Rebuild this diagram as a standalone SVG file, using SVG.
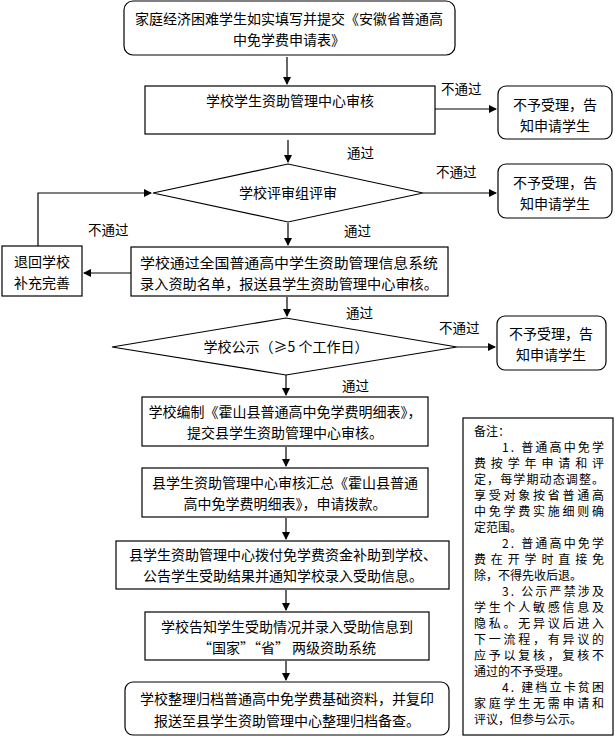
<svg xmlns="http://www.w3.org/2000/svg" width="615" height="738" viewBox="0 0 615 738">
<defs>
<marker id="ah" markerWidth="8" markerHeight="8" refX="7" refY="4" orient="auto" markerUnits="userSpaceOnUse"><path d="M0,0 L8,4 L0,8 Z" fill="#000"/></marker>
<style>
rect,polygon{fill:#fff;stroke:#000;stroke-width:1.2}
text{font-family:"Noto Sans CJK SC","Liberation Sans",sans-serif;font-size:14px;fill:#000}
.c{text-anchor:middle}
.l{font-size:13.5px}
.n{font-family:"Noto Sans CJK SC",sans-serif;font-size:12px}
#connectors line,#connectors polyline{stroke:#000;stroke-width:1.2;fill:none;marker-end:url(#ah)}
</style>
</defs>
<rect width="615" height="738" style="fill:#fff;stroke:none"/>
<g id="connectors">
<line x1="287" y1="57" x2="287" y2="84"/>
<line x1="435" y1="109" x2="496" y2="109"/>
<line x1="288" y1="140" x2="288" y2="162"/>
<line x1="423" y1="193" x2="496" y2="193"/>
<line x1="288" y1="223" x2="288" y2="245"/>
<line x1="131" y1="273" x2="84" y2="273"/>
<polyline points="38,246 38,193 151,193"/>
<line x1="287" y1="297" x2="287" y2="316"/>
<line x1="457" y1="347" x2="495" y2="347"/>
<line x1="286" y1="375" x2="286" y2="395"/>
<line x1="286" y1="447" x2="286" y2="466"/>
<line x1="286" y1="518" x2="286" y2="539"/>
<line x1="286" y1="590" x2="286" y2="610"/>
<line x1="286" y1="661" x2="286" y2="680"/>
<text class="l" x="441" y="94">不通过</text>
<text class="l" x="347" y="158">通过</text>
<text class="l" x="436" y="177">不通过</text>
<text class="l" x="344" y="236">通过</text>
<text class="l" x="88" y="235">不通过</text>
<text class="l" x="346" y="318">通过</text>
<text class="l" x="439" y="333">不通过</text>
<text class="l" x="342" y="391">通过</text>
</g>
<g id="n1"><rect x="124" y="1" width="331" height="54" rx="9"/><text class="c" x="289" y="24">家庭经济困难学生如实填写并提交《安徽省普通高</text><text class="c" x="289" y="45">中免学费申请表》</text></g>
<g id="n2"><rect x="145" y="86" width="290" height="48"/><text class="c" x="290" y="106">学校学生资助管理中心审核</text></g>
<g id="r1"><rect x="498" y="86" width="114" height="53" rx="8"/><text class="c" x="555" y="110">不予受理，告</text><text class="c" x="555" y="131">知申请学生</text></g>
<g id="d1"><polygon points="153,193 288,164 423,193 288,222"/><text class="c" x="288" y="198">学校评审组评审</text></g>
<g id="r2"><rect x="498" y="164" width="114" height="54" rx="8"/><text class="c" x="555" y="188">不予受理，告</text><text class="c" x="555" y="209">知申请学生</text></g>
<g id="n3"><rect x="131" y="247" width="317" height="49"/><text class="c" x="289" y="268" textLength="298" lengthAdjust="spacingAndGlyphs">学校通过全国普通高中学生资助管理信息系统</text><text class="c" x="289" y="289" textLength="298" lengthAdjust="spacingAndGlyphs">录入资助名单，报送县学生资助管理中心审核。</text></g>
<g id="back"><rect x="2" y="246" width="80" height="50"/><text class="c" x="42" y="267">退回学校</text><text class="c" x="42" y="288">补充完善</text></g>
<g id="d2"><polygon points="112,347 286,318 457,347 286,375"/><text class="c" x="286" y="352">学校公示（≥5 个工作日）</text></g>
<g id="r3"><rect x="497" y="316" width="109" height="54" rx="8"/><text class="c" x="551" y="339">不予受理，告</text><text class="c" x="551" y="360">知申请学生</text></g>
<g id="n4"><rect x="142" y="397" width="286" height="49"/><text class="c" x="285" y="417">学校编制《霍山县普通高中免学费明细表》，</text><text class="c" x="285" y="438">提交县学生资助管理中心审核。</text></g>
<g id="n5"><rect x="142" y="468" width="286" height="49"/><text class="c" x="285" y="488">县学生资助管理中心审核汇总《霍山县普通</text><text class="c" x="285" y="509">高中免学费明细表》，申请拨款。</text></g>
<g id="n6"><rect x="116" y="541" width="333" height="48"/><text class="c" x="283" y="560">县学生资助管理中心拨付免学费资金补助到学校、</text><text class="c" x="283" y="581">公告学生受助结果并通知学校录入受助信息。</text></g>
<g id="n7"><rect x="145" y="612" width="284" height="48"/><text class="c" x="287" y="632">学校告知学生受助情况并录入受助信息到</text><text class="c" x="287" y="653">“国家”“省” 两级资助系统</text></g>
<g id="n8"><rect x="125" y="682" width="324" height="53" rx="8"/><text class="c" x="287" y="704">学校整理归档普通高中免学费基础资料，并复印</text><text class="c" x="287" y="726">报送至县学生资助管理中心整理归档备查。</text></g>
<g id="note"><rect x="463" y="418" width="150" height="317"/>
<text class="n" x="474" y="436">备注：</text>
<text class="n" x="502" y="452" textLength="102" lengthAdjust="spacing">1. 普通高中免学</text>
<text class="n" x="474" y="468" textLength="130" lengthAdjust="spacing">费按学年申请和评</text>
<text class="n" x="474" y="484" textLength="130" lengthAdjust="spacing">定，每学期动态调整。</text>
<text class="n" x="474" y="500" textLength="130" lengthAdjust="spacing">享受对象按省普通高</text>
<text class="n" x="474" y="516" textLength="130" lengthAdjust="spacing">中免学费实施细则确</text>
<text class="n" x="474" y="532">定范围。</text>
<text class="n" x="502" y="548" textLength="102" lengthAdjust="spacing">2. 普通高中免学</text>
<text class="n" x="474" y="564" textLength="130" lengthAdjust="spacing">费在开学时直接免</text>
<text class="n" x="474" y="580">除，不得先收后退。</text>
<text class="n" x="502" y="596" textLength="102" lengthAdjust="spacing">3. 公示严禁涉及</text>
<text class="n" x="474" y="612" textLength="130" lengthAdjust="spacing">学生个人敏感信息及</text>
<text class="n" x="474" y="628" textLength="130" lengthAdjust="spacing">隐私。无异议后进入</text>
<text class="n" x="474" y="644" textLength="130" lengthAdjust="spacing">下一流程，有异议的</text>
<text class="n" x="474" y="660" textLength="130" lengthAdjust="spacing">应予以复核，复核不</text>
<text class="n" x="474" y="676">通过的不予受理。</text>
<text class="n" x="502" y="692" textLength="102" lengthAdjust="spacing">4. 建档立卡贫困</text>
<text class="n" x="474" y="708" textLength="130" lengthAdjust="spacing">家庭学生无需申请和</text>
<text class="n" x="474" y="724">评议，但参与公示。</text>
</g>
</svg>
